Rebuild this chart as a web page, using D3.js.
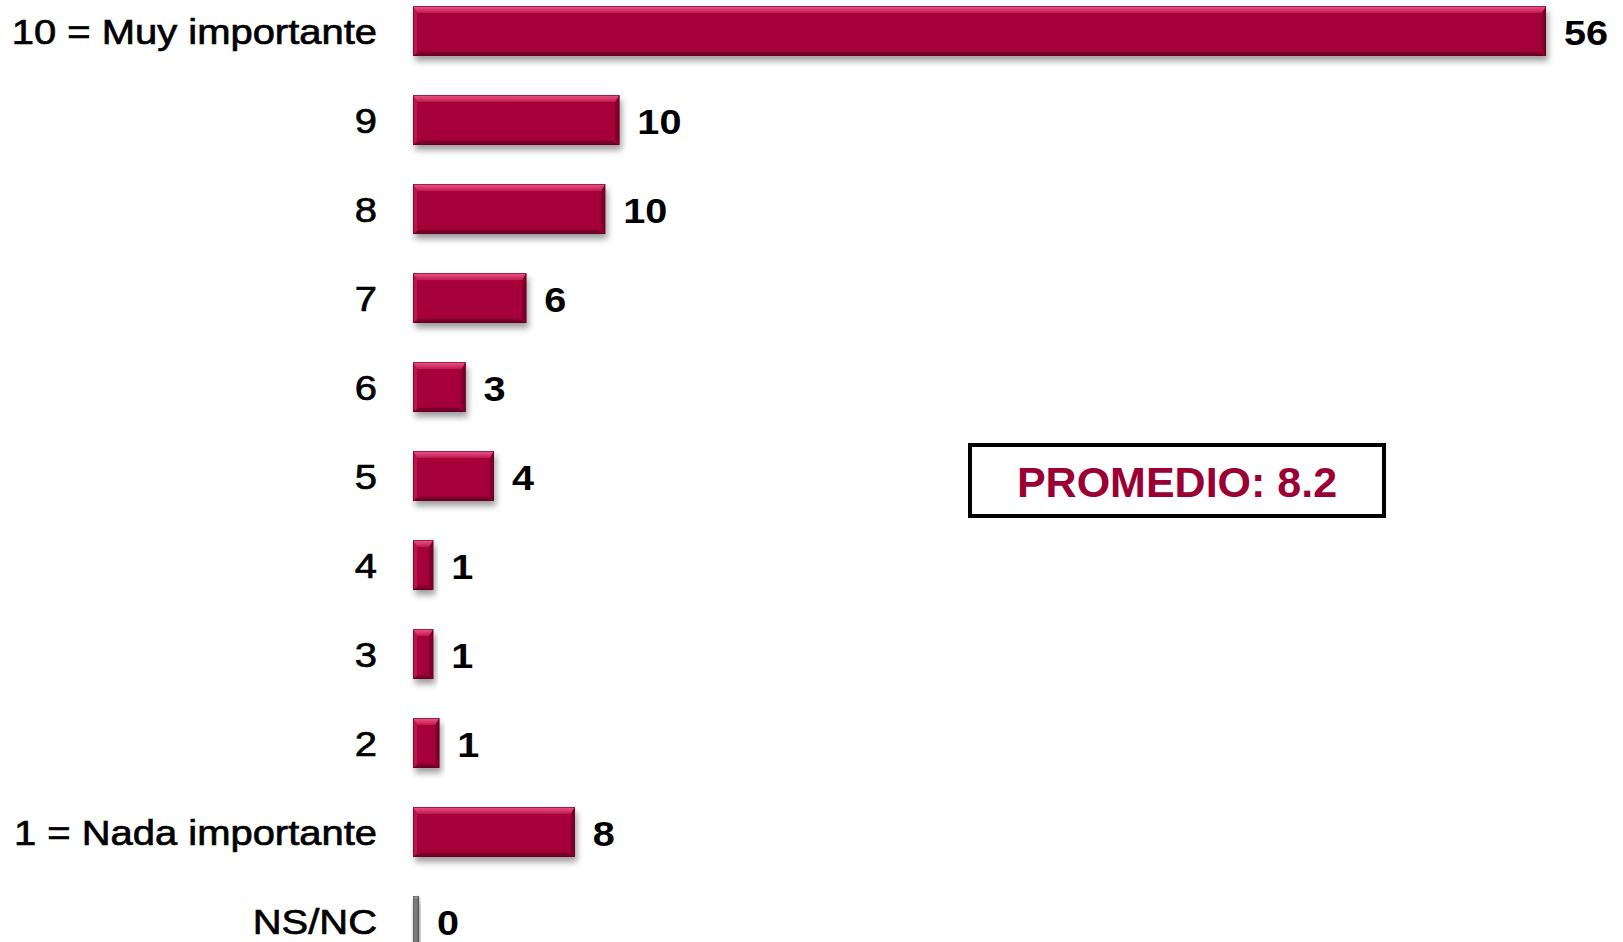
<!DOCTYPE html>
<html>
<head>
<meta charset="utf-8">
<script src="https://cdn.jsdelivr.net/npm/d3@7/dist/d3.min.js"></script>
<style>
  html, body { margin: 0; padding: 0; background: #fff; }
  svg { display: block; font-family: "Liberation Sans", Arial, sans-serif; }
</style>
</head>
<body>
<svg id="chart" width="1623" height="942"></svg>
<script>
// Importance rating distribution (%)
const categories = ["10 = Muy importante", "9", "8", "7", "6", "5", "4", "3", "2", "1 = Nada importante", "NS/NC"];
const values = [56.0, 10.2, 9.5, 5.6, 2.6, 4.0, 1.0, 1.0, 1.3, 8.0, 0.3];
const averageLabel = "PROMEDIO: 8.2";

const svg = d3.select("#chart");

const x = d3.scaleLinear().domain([0, 56]).range([413, 1546]);
const y = d3.scaleBand().domain(categories).range([6, 946]).paddingInner(0.438).paddingOuter(0);

const defs = svg.append("defs");
const shadow = defs.append("filter").attr("id", "shadow")
  .attr("x", "-20%").attr("y", "-30%").attr("width", "140%").attr("height", "170%");
shadow.append("feDropShadow").attr("dx", 2).attr("dy", 5).attr("stdDeviation", 3)
  .attr("flood-color", "#000").attr("flood-opacity", 0.38);

function bevelGradient(id, c1, c2) {
  const g = defs.append("linearGradient").attr("id", id).attr("x1", 0).attr("y1", 0).attr("x2", 0).attr("y2", 1);
  g.append("stop").attr("offset", "0%").attr("stop-color", c1);
  g.append("stop").attr("offset", "100%").attr("stop-color", c2);
}
bevelGradient("topRed", "#f2588a", "#c01a4e");
bevelGradient("topGray", "#b8b8b8", "#8a8a8a");

const palette = {
  red:  { main: "#a6003a", top: "url(#topRed)", left: "#b81447", right: "#7e002a", bottom: "#76002a", edge: "#5e0020" },
  gray: { main: "#7a7a7a", top: "url(#topGray)", left: "#8c8c8c", right: "#5e5e5e", bottom: "#5a5a5a", edge: "#4a4a4a" }
};

const rows = categories.map((c, i) => ({ cat: c, value: values[i] }));

const bars = svg.append("g").selectAll("g.bar").data(rows).join("g")
  .attr("class", "bar")
  .attr("filter", "url(#shadow)");

bars.each(function(d) {
  const g = d3.select(this);
  const p = d.cat === "NS/NC" ? palette.gray : palette.red;
  const x0 = x(0), x1 = x(d.value), y0 = y(d.cat), y1 = y0 + y.bandwidth();
  const w = x1 - x0;
  const b = Math.min(7, w / 2.6);
  const poly = pts => pts.map(q => q.join(",")).join(" ");
  g.append("rect").attr("x", x0).attr("y", y0).attr("width", w).attr("height", y1 - y0).attr("fill", p.main);
  g.append("polygon").attr("points", poly([[x0, y1], [x1, y1], [x1 - b, y1 - b * 0.6], [x0 + b, y1 - b * 0.6]])).attr("fill", p.bottom);
  g.append("polygon").attr("points", poly([[x1, y0], [x1, y1], [x1 - b * 0.6, y1 - b * 0.6], [x1 - b * 0.6, y0 + b]])).attr("fill", p.right);
  g.append("polygon").attr("points", poly([[x0, y0], [x0 + b * 0.6, y0 + b], [x0 + b * 0.6, y1 - b * 0.6], [x0, y1]])).attr("fill", p.left);
  g.append("polygon").attr("points", poly([[x0, y0], [x1, y0], [x1 - b * 0.6, y0 + b], [x0 + b * 0.6, y0 + b]])).attr("fill", p.top);
  g.append("rect").attr("x", x0 + 0.5).attr("y", y0 + 0.5).attr("width", Math.max(0, w - 1)).attr("height", y1 - y0 - 1)
    .attr("fill", "none").attr("stroke", p.edge).attr("stroke-width", 1).attr("stroke-opacity", 0.6);
});

// Category labels
svg.append("g").selectAll("text").data(rows).join("text")
  .attr("transform", d => `translate(377,${y(d.cat) + y.bandwidth() / 2 + 13}) scale(1.11,1)`)
  .attr("text-anchor", "end")
  .attr("font-size", 36)
  .attr("fill", "#000")
  .attr("stroke", "#000").attr("stroke-width", 0.7)
  .text(d => d.cat);

// Value labels
svg.append("g").selectAll("text").data(rows).join("text")
  .attr("transform", d => `translate(${x(d.value) + 18},${y(d.cat) + y.bandwidth() / 2 + 14}) scale(1.1,1)`)
  .attr("font-size", 36)
  .attr("font-weight", "bold")
  .attr("fill", "#000")
  .text(d => String(Math.round(d.value)));

// Average box
const box = svg.append("g");
box.append("rect").attr("x", 970).attr("y", 445).attr("width", 414).attr("height", 71)
  .attr("fill", "#fff").attr("stroke", "#000").attr("stroke-width", 4);
box.append("text").attr("x", 1177).attr("y", 497).attr("text-anchor", "middle")
  .attr("font-size", 43).attr("font-weight", "bold").attr("fill", "#9b0035")
  .text(averageLabel);
</script>
</body>
</html>
